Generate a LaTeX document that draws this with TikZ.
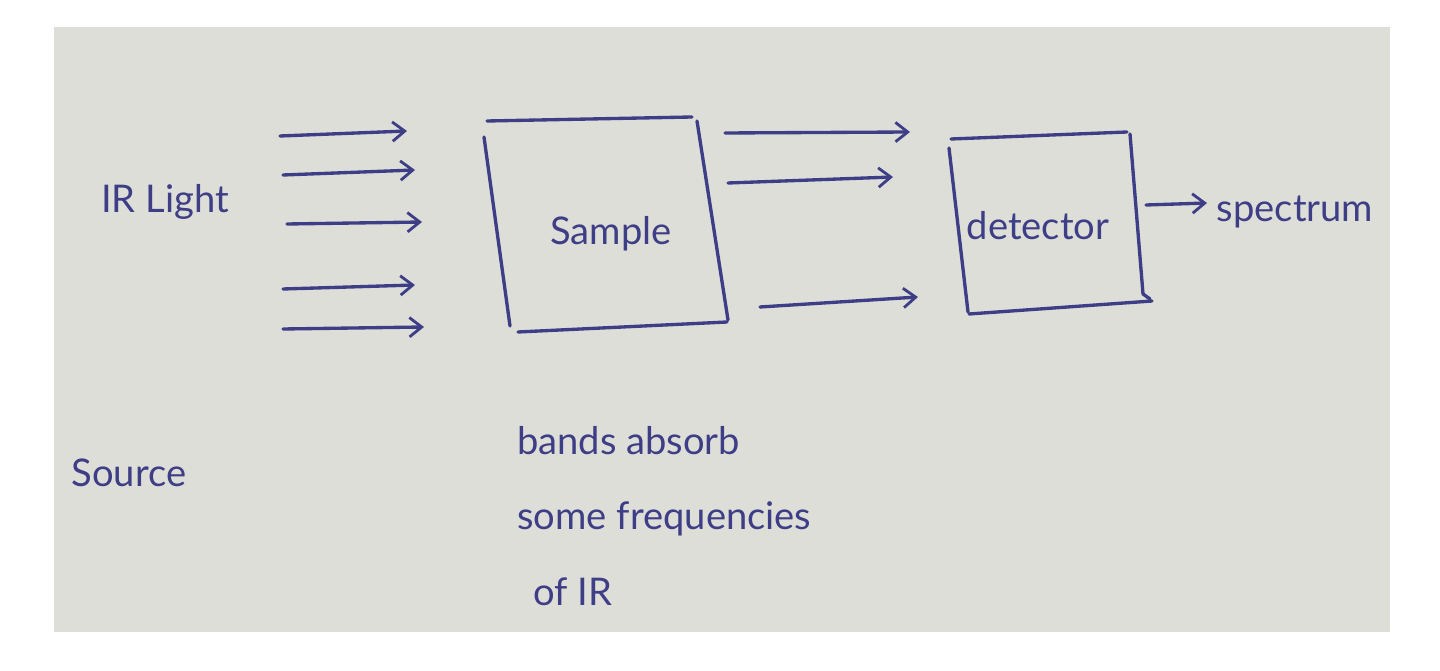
\documentclass[tikz,border=0pt]{standalone}
\usepackage{fontspec}
\setmainfont{Lato}
\usetikzlibrary{arrows.meta}
\definecolor{ink}{RGB}{62,62,134}
\definecolor{paper}{RGB}{222,222,217}
\tikzset{pen/.style={draw=ink, line width=1.9pt, line cap=round, line join=round},
ray/.style={pen, -{Straight Barb[length=7pt,width=11pt,line width=1.6pt]}},
hand/.style={text=ink, font=\fontsize{21.7}{43}\selectfont, inner sep=0pt}}
\begin{document}
\begin{tikzpicture}[x=0.02cm, y=-0.02cm]
\useasboundingbox (0,0) rectangle (1440,671);
\fill[paper] (54,27) rectangle (1390,632);
% labels
\node [hand, anchor=base] (irlight) at (165,213) {IR Light};
\node [hand, anchor=base] (source) at (129,487) {Source};
\node [hand, anchor=base] (sample) at (611,245) {Sample};
\node [hand, anchor=base] (detector) at (1038,240) {detector};
\node [hand, anchor=base] (spectrum) at (1295,222) {spectrum};
\node [hand, anchor=north west, align=left] (bands) at (517,426) {bands absorb\\some frequencies\\\hspace{9pt}of IR};
% incoming rays
\node [] (i1) at (280,136) {};
\node [] (i2) at (407,131) {};
\node [] (i3) at (283,175) {};
\node [] (i4) at (415,170) {};
\node [] (i5) at (287,224) {};
\node [] (i6) at (422,222) {};
\node [] (i7) at (283,289) {};
\node [] (i8) at (415,285) {};
\node [] (i9) at (283,329) {};
\node [] (i10) at (424,327) {};
\draw [ray] (i1.center) -- (i2.center);
\draw [ray] (i3.center) -- (i4.center);
\draw [ray] (i5.center) -- (i6.center);
\draw [ray] (i7.center) -- (i8.center);
\draw [ray] (i9.center) -- (i10.center);
% sample box
\node [] (s1) at (487,121) {};
\node [] (s2) at (692,117) {};
\node [] (s3) at (697,121) {};
\node [] (s4) at (728,320) {};
\node [] (s5) at (518,332) {};
\node [] (s6) at (727,322) {};
\node [] (s7) at (484,137) {};
\node [] (s8) at (510,326) {};
\draw [pen] (s1.center) to (s2.center);
\draw [pen] (s3.center) to (s4.center);
\draw [pen] (s5.center) to (s6.center);
\draw [pen] (s7.center) to (s8.center);
% outgoing rays
\node [] (o1) at (725,133) {};
\node [] (o2) at (910,132) {};
\node [] (o3) at (728,183) {};
\node [] (o4) at (893,177) {};
\node [] (o5) at (760,307) {};
\node [] (o6) at (918,297) {};
\draw [ray] (o1.center) -- (o2.center);
\draw [ray] (o3.center) -- (o4.center);
\draw [ray] (o5.center) -- (o6.center);
% detector box
\node [] (d1) at (951,139) {};
\node [] (d2) at (1127,132) {};
\node [] (d3) at (1130,134) {};
\node [] (d4) at (1143,294) {};
\node [] (d5) at (969,314) {};
\node [] (d6) at (1152,301) {};
\node [] (d7) at (949,148) {};
\node [] (d8) at (968,312) {};
\draw [pen] (d1.center) to (d2.center);
\draw [pen] (d3.center) to (d4.center) to (1150,299);
\draw [pen] (d5.center) to (d6.center);
\draw [pen] (d7.center) to (d8.center);
% output
\node [] (e1) at (1146,205) {};
\node [] (e2) at (1207,203) {};
\draw [ray] (e1.center) -- (e2.center);
\end{tikzpicture}
\end{document}
